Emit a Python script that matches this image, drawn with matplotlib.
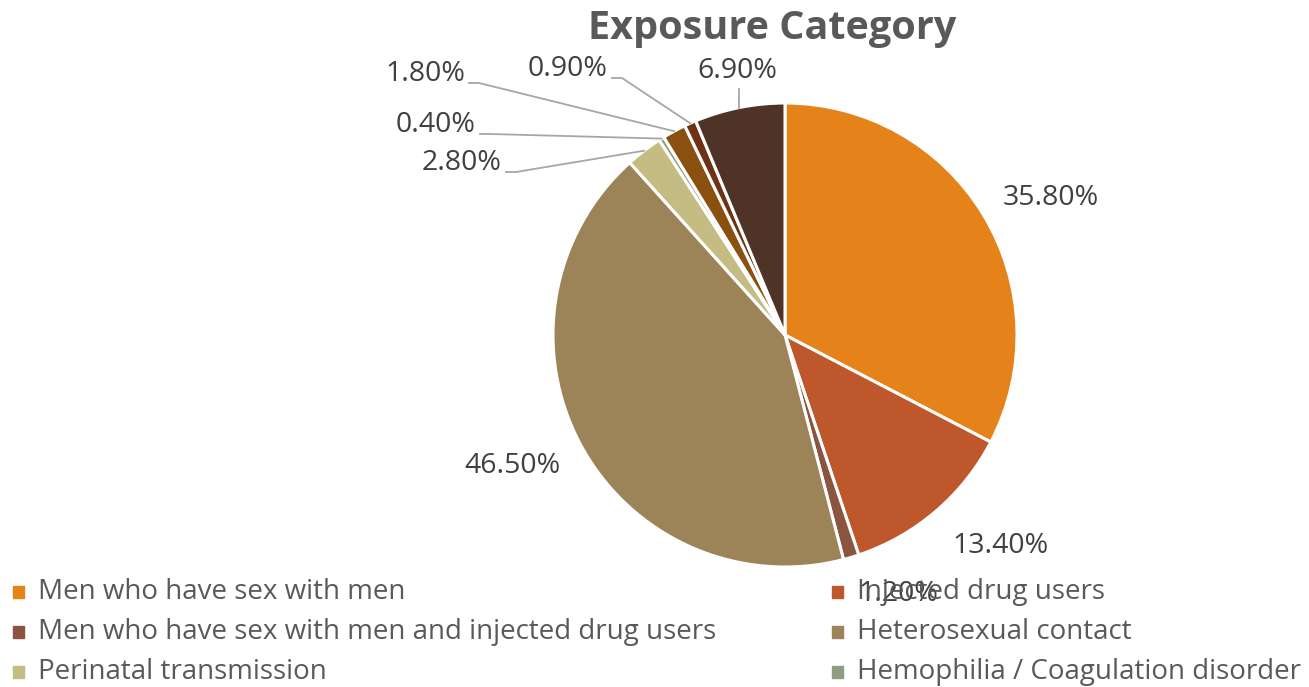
import numpy as np
import matplotlib.pyplot as plt
from matplotlib.patches import Rectangle

# data
categories = ['Men who have sex with men', 'Injected drug users',
              'Men who have sex with men and injected drug users',
              'Heterosexual contact', 'Perinatal transmission',
              'Hemophilia / Coagulation disorder',
              'Blood transfusion', 'Other', 'Unknown']
values = [35.8, 13.4, 1.2, 46.5, 2.8, 0.4, 1.8, 0.9, 6.9]
labels = ['35.80%', '13.40%', '1.20%', '46.50%', '2.80%', '0.40%', '1.80%', '0.90%', '6.90%']
colors = ['#E6821A', '#BE582C', '#8B5440', '#9C8358', '#C4BC82',
          '#8E9C80', '#8A5010', '#6E3216', '#4F3326']

# layout (pixels, y down)
W, H = 1309, 687
cx, cy, R = 785, 335, 232
label_pos = [(1051, 198), (1001, 546), (898, 594), (512, 466), (462, 163),
             (436, 125), (425, 74), (568, 69), (737, 71)]
leader = [None, None, None, None, 'side', 'side', 'side', 'side', 'up']

plt.rcParams['font.family'] = ['Open Sans', 'DejaVu Sans']

fig = plt.figure(figsize=(W / 100, H / 100), dpi=100)
ax = fig.add_axes([0, 0, 1, 1])
wedges, _ = ax.pie(values, colors=colors, startangle=90, counterclock=False,
                   center=(cx, H - cy), radius=R,
                   wedgeprops=dict(edgecolor='white', linewidth=2.2))
ax.set_xlim(0, W)
ax.set_ylim(0, H)
ax.set_aspect('equal')
ax.axis('off')

for w, lab, (lx, ly), kind in zip(wedges, labels, label_pos, leader):
    ax.text(lx, H - ly, lab, fontsize=20.5, color='#404040', ha='center', va='center')
    mid = np.deg2rad((w.theta1 + w.theta2) / 2)
    ex, ey = cx + R * np.cos(mid), (H - cy) + R * np.sin(mid)
    if kind == 'side':
        sx, sy = lx + 44, H - (ly + 9)
        ax.plot([sx, sx + 10, ex], [sy, sy, ey], color='#A6A6A6', lw=1.3)
    elif kind == 'up':
        ax.plot([ex, ex], [ey, H - (ly + 18)], color='#A6A6A6', lw=1.3)

ax.text(772, H - 29, 'Exposure Category', fontsize=28.5, fontweight='bold',
        color='#595959', ha='center', va='center')

# legend, row by row, two columns
for i, (cat, col) in enumerate(zip(categories, colors)):
    row, c = i // 2, i % 2
    x0 = [13, 832][c]
    y0 = 592 + 40 * row
    if y0 > H:
        continue
    ax.add_patch(Rectangle((x0, H - y0 - 6), 11, 12, color=col))
    ax.text(x0 + 25, H - y0, cat, fontsize=20, color='#595959', ha='left', va='center')

plt.savefig('out.png', dpi=100)
